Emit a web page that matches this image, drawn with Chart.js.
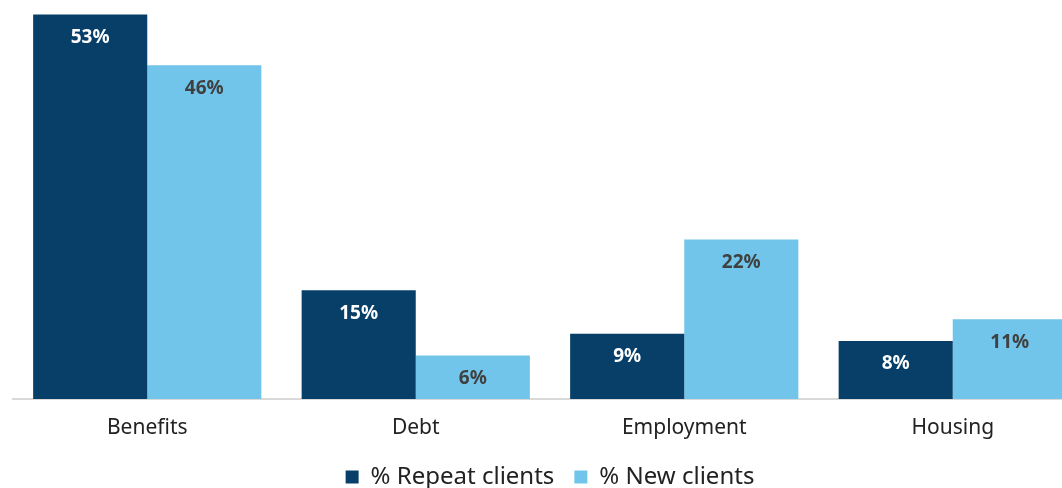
<!DOCTYPE html>
<html>
<head>
<meta charset="utf-8">
<script src="https://cdn.jsdelivr.net/npm/chart.js@4"></script>
<style>
  html, body { margin: 0; padding: 0; background: #fff; overflow: hidden; }
  #wrap { position: relative; width: 1088px; height: 488px; }
</style>
</head>
<body>
<div id="wrap"><canvas id="myChart"></canvas></div>
<script>
var categories = ["Benefits", "Debt", "Employment", "Housing"];
var repeatClients = [53, 15, 9, 8];
var newClients = [46, 6, 22, 11];

// draws the % labels inside the top of each bar
var barLabels = {
    id: 'barLabels',
    afterDatasetsDraw: function (chart) {
        var ctx = chart.ctx;
        ctx.save();
        ctx.font = 'bold 19px "Noto Sans"';
        ctx.textAlign = 'center';
        ctx.textBaseline = 'middle';
        chart.data.datasets.forEach(function (ds, i) {
            var meta = chart.getDatasetMeta(i);
            ctx.fillStyle = ds.labelColor;
            meta.data.forEach(function (bar, j) {
                ctx.fillText(ds.data[j] + '%', bar.x, bar.y + 23);
            });
        });
        ctx.restore();
    }
};

var ctx = document.getElementById('myChart').getContext('2d');
var chart = new Chart(ctx, {
    type: 'bar',
    data: {
        labels: categories,
        datasets: [{
            label: '% Repeat clients',
            data: repeatClients,
            backgroundColor: '#073f69',
            labelColor: '#ffffff',
            categoryPercentage: 0.85,
            barPercentage: 1.0
        }, {
            label: '% New clients',
            data: newClients,
            backgroundColor: '#71c5ea',
            labelColor: '#404040',
            categoryPercentage: 0.85,
            barPercentage: 1.0
        }]
    },
    options: {
        responsive: true,
        maintainAspectRatio: false,
        animation: false,
        layout: { padding: { left: 13, right: 1, top: 0, bottom: -11 } },
        scales: {
            x: {
                grid: { display: false },
                border: { color: '#d9d9d9', width: 2 },
                ticks: { color: '#222', font: { family: 'Noto Sans', size: 21 }, padding: 8 },
                afterFit: function (scale) { scale.height = 46; }
            },
            y: {
                display: false,
                min: 0,
                max: 55
            }
        },
        plugins: {
            legend: {
                position: 'bottom',
                labels: {
                    boxWidth: 13,
                    boxHeight: 13,
                    color: '#222',
                    padding: 20,
                    font: { family: 'Noto Sans', size: 24 }
                }
            },
            tooltip: { enabled: false }
        }
    },
    plugins: [barLabels]
});
</script>
</body>
</html>
